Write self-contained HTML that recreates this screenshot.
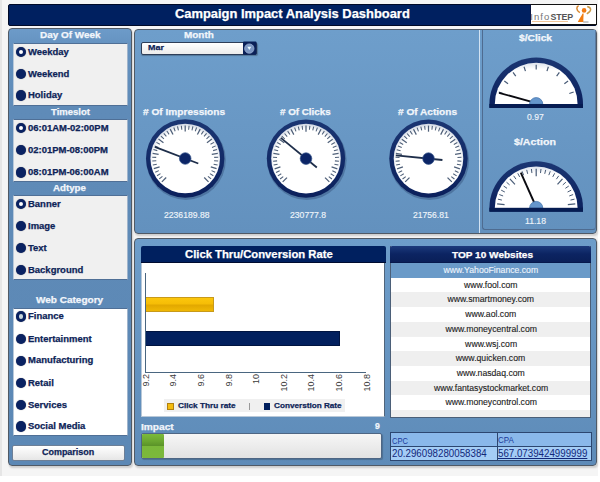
<!DOCTYPE html>
<html><head><meta charset="utf-8">
<style>
*{box-sizing:border-box;margin:0;padding:0}
html,body{width:600px;height:482px;overflow:hidden;background:#fff;font-family:"Liberation Sans",sans-serif}
.a{position:absolute}
#bg{left:2px;top:0;width:596px;height:476px;background:#f5f5f5}
#lstrip{left:0;top:0;width:1.5px;height:476px;background:#e6e6e6}
#hdr{left:8px;top:4px;width:589px;height:22px;background:#002060;border:1px solid #000a28;border-radius:2px}
#hdr .t{left:0;width:568px;top:3.1px;text-align:center;color:#fff;font-weight:bold;font-size:12.3px;letter-spacing:0.36px}
#logo{left:529.5px;top:4px;width:67px;height:21px;background:#fff;border:1.3px solid #111;border-left:1px solid #0a1640}
.panel{background:linear-gradient(#6e9dcb,#6897c4);border:1px solid #505a66;border-radius:4px;box-shadow:1px 2px 2px rgba(0,0,0,0.16)}
.ht{color:#f2f6fb;font-weight:bold;font-size:10px;white-space:nowrap;text-align:center}
.box{background:#f0f0f0;border:1px solid #4f6f96;border-left-color:#b9c9da;border-right-color:#9fb4cc}
.ri{color:#0e2458;font-weight:bold;font-size:8.7px;line-height:8.7px;white-space:nowrap;left:14.3px;transform:scaleX(1.09);transform-origin:0 0;-webkit-text-stroke:0.25px #0e2458}
.rd{width:10.4px;height:10.4px;border-radius:50%;background:#0a2262;left:2.2px;margin-top:-0.2px;box-shadow:0 0 1px rgba(0,0,0,.5)}
.rd.h{background:#fff;border:3px solid #0a2262}
.val{color:#eef4fa;font-size:8.7px;white-space:nowrap;text-align:center}
.lbl{color:#f4f8fc;font-weight:bold;font-size:10px;white-space:nowrap;text-align:center}
.row{left:0;width:200px;height:14.7px;text-align:center;font-size:8.4px;color:#2a2a2a;line-height:14.7px;white-space:nowrap}
.row span{display:inline-block;transform:scaleX(1.035);-webkit-text-stroke:0.12px currentColor}
</style></head><body>
<div id="bg" class="a"></div><div id="lstrip" class="a"></div>
<div id="hdr" class="a"></div>
<div id="logo" class="a"></div>
<div class="a" style="left:530.2px;top:10.6px;font-size:9.5px;color:#767676;letter-spacing:1.1px;white-space:nowrap;line-height:11px">Info<b style="color:#555;font-size:8.8px;letter-spacing:-0.1px">STEP</b></div>
<div class="a" style="left:532px;top:20.6px;width:36px;height:1px;background:#f2c698"></div>
<svg class="a" style="left:570px;top:3px" width="26" height="22" viewBox="570 3 26 22">
<path d="M578.6,5.6 C576.2,6.8 576.0,10.4 579.8,12.6" stroke="#d9862c" stroke-width="1.5" fill="none"/>
<path d="M587.2,6.4 C591.2,7.4 592.4,10.6 586.8,13.8" stroke="#c99a48" stroke-width="1.5" fill="none"/>
<circle cx="584.1" cy="10.4" r="2.3" fill="#f07a12"/>
<path d="M582.6,13.6 C581.2,16.5 579.0,19.5 577.8,22 L583.4,22 C583.2,19 583.6,16 583.6,13.6 Z" fill="#f27c10"/>
<path d="M583.2,22 L588.5,22" stroke="#8a8a8a" stroke-width="0.9"/>
</svg>
<!-- left panel -->
<div class="a panel" style="left:8px;top:28px;width:124.2px;height:438px;background:linear-gradient(#6d9bc9 0px,#6592c0 16px,#5f8bb8 78px,#5c88b5 100%)"></div>
<div class="a box" style="left:12.5px;top:43px;width:115.5px;height:63px;background:#f0f0f0">
  <div class="a rd h" style="top:3.1px"></div><div class="a ri" style="top:3.89px">Weekday</div>
  <div class="a rd" style="top:24.8px"></div><div class="a ri" style="top:25.59px">Weekend</div>
  <div class="a rd" style="top:46.4px"></div><div class="a ri" style="top:47.19px">Holiday</div>
</div>
<div class="a box" style="left:12.5px;top:119px;width:115.5px;height:62.8px;background:#f0f0f0">
  <div class="a rd h" style="top:2.8px"></div><div class="a ri" style="top:3.59px">06:01AM-02:00PM</div>
  <div class="a rd" style="top:25.1px"></div><div class="a ri" style="top:25.89px">02:01PM-08:00PM</div>
  <div class="a rd" style="top:47.4px"></div><div class="a ri" style="top:48.19px">08:01PM-06:00AM</div>
</div>
<div class="a box" style="left:12.5px;top:195px;width:115.5px;height:85px;background:#f0f0f0">
  <div class="a rd h" style="top:3.0px"></div><div class="a ri" style="top:3.79px">Banner</div>
  <div class="a rd" style="top:24.9px"></div><div class="a ri" style="top:25.69px">Image</div>
  <div class="a rd" style="top:47.0px"></div><div class="a ri" style="top:47.79px">Text</div>
  <div class="a rd" style="top:69.1px"></div><div class="a ri" style="top:69.89px">Background</div>
</div>
<div class="a box" style="left:12.5px;top:308px;width:115.5px;height:128px;background:#ffffff">
  <div class="a rd h" style="top:2.6px;background:#c8d6dc"></div><div class="a ri" style="top:3.39px">Finance</div>
  <div class="a rd" style="top:24.8px"></div><div class="a ri" style="top:25.59px">Entertainment</div>
  <div class="a rd" style="top:46.7px"></div><div class="a ri" style="top:47.49px">Manufacturing</div>
  <div class="a rd" style="top:68.9px"></div><div class="a ri" style="top:69.69px">Retail</div>
  <div class="a rd" style="top:90.8px"></div><div class="a ri" style="top:91.59px">Services</div>
  <div class="a rd" style="top:112.6px"></div><div class="a ri" style="top:113.39px">Social Media</div>
</div>
<div class="a" style="left:12px;top:445px;width:113px;height:16px;background:linear-gradient(#fff,#e6e6e6);border:1px solid #6d7f96;border-radius:2px"></div>

<!-- top middle panel -->
<div class="a panel" style="left:134px;top:29px;width:463px;height:205px;background:linear-gradient(#6e9ecb,#6391be)"></div>
<div class="a" style="left:478.5px;top:30px;width:1.6px;height:203px;background:#d2e2f2"></div>
<div class="a" style="left:482px;top:30px;width:114px;height:200px;border:1px solid #4e6b90;border-top:none;border-right-color:#5a7aa0;border-radius:0 0 3px 3px;background:linear-gradient(#6e9ecb,#6391be)"></div>
<div class="a" style="left:141px;top:41.5px;width:116px;height:13.7px;background:linear-gradient(#ffffff,#ebebeb);border:1px solid #2e3e58;border-radius:2px;box-shadow:0.5px 1px 1px rgba(0,0,0,.25)"></div>
<svg class="a" style="left:240px;top:38px" width="20" height="20" viewBox="240 38 20 20">
<rect x="243" y="41.4" width="13.5" height="13.4" rx="1" fill="#0a2058"/>
<circle cx="249.3" cy="48.6" r="4.7" fill="#7a95c2" stroke="#a4b8d8" stroke-width="0.7"/>
<path d="M247.3,46.7 L251.3,46.7 L249.3,49.9 Z" fill="#e4f6ff"/>
</svg>

<!-- bottom panel -->
<div class="a panel" style="left:134px;top:238px;width:463px;height:228px;background:linear-gradient(#6d9dca,#5e8bb8)"></div>
<!-- chart -->
<div class="a" style="left:141px;top:263px;width:244px;height:154px;background:#fff;border:1px solid #b8c8d8;border-top:none;border-right-color:#50647a"></div>
<div class="a" style="left:141px;top:246px;width:245px;height:17px;background:#00205f;border-bottom:1px solid #000c30;border-radius:2px 2px 0 0"></div>
<div class="a" style="left:145.3px;top:272.5px;width:1px;height:100px;background:#4a6680"></div>
<div class="a" style="left:145.3px;top:371.8px;width:221px;height:1px;background:#4a6680"></div>
<div class="a" style="left:146.3px;top:297.3px;width:67.5px;height:14.7px;background:linear-gradient(#fcc60c 0%,#f6bd06 45%,#e2a800 55%,#f0b804 100%);border:1px solid #c89a1a;border-left:none"></div>
<div class="a" style="left:146.3px;top:331px;width:194px;height:14.6px;background:#02205e;border:1px solid #001440;border-left:none"></div>
<div class="a" style="left:115.75px;top:369.40px;width:30px;height:10px;line-height:10px;text-align:right;font-size:9px;color:#3a3a3a;transform-origin:100% 50%;transform:rotate(-90deg);white-space:nowrap">9.2</div>
<div class="a" style="left:143.35px;top:369.40px;width:30px;height:10px;line-height:10px;text-align:right;font-size:9px;color:#3a3a3a;transform-origin:100% 50%;transform:rotate(-90deg);white-space:nowrap">9.4</div>
<div class="a" style="left:170.95px;top:369.40px;width:30px;height:10px;line-height:10px;text-align:right;font-size:9px;color:#3a3a3a;transform-origin:100% 50%;transform:rotate(-90deg);white-space:nowrap">9.6</div>
<div class="a" style="left:198.55px;top:369.40px;width:30px;height:10px;line-height:10px;text-align:right;font-size:9px;color:#3a3a3a;transform-origin:100% 50%;transform:rotate(-90deg);white-space:nowrap">9.8</div>
<div class="a" style="left:226.15px;top:369.40px;width:30px;height:10px;line-height:10px;text-align:right;font-size:9px;color:#3a3a3a;transform-origin:100% 50%;transform:rotate(-90deg);white-space:nowrap">10</div>
<div class="a" style="left:253.75px;top:369.40px;width:30px;height:10px;line-height:10px;text-align:right;font-size:9px;color:#3a3a3a;transform-origin:100% 50%;transform:rotate(-90deg);white-space:nowrap">10.2</div>
<div class="a" style="left:281.35px;top:369.40px;width:30px;height:10px;line-height:10px;text-align:right;font-size:9px;color:#3a3a3a;transform-origin:100% 50%;transform:rotate(-90deg);white-space:nowrap">10.4</div>
<div class="a" style="left:308.95px;top:369.40px;width:30px;height:10px;line-height:10px;text-align:right;font-size:9px;color:#3a3a3a;transform-origin:100% 50%;transform:rotate(-90deg);white-space:nowrap">10.6</div>
<div class="a" style="left:336.55px;top:369.40px;width:30px;height:10px;line-height:10px;text-align:right;font-size:9px;color:#3a3a3a;transform-origin:100% 50%;transform:rotate(-90deg);white-space:nowrap">10.8</div>
<div class="a" style="left:164px;top:399.3px;width:181.3px;height:13px;background:#f0f0f0"></div>
<div class="a" style="left:166.8px;top:402.6px;width:7.2px;height:7px;background:#f4bc10;border:1px solid #b08010"></div>
<div class="a" style="left:249.3px;top:402.5px;width:0.8px;height:7px;background:#999"></div>
<div class="a" style="left:263.6px;top:402.6px;width:6.6px;height:7px;background:#02205e"></div>
<!-- top10 -->
<div class="a" style="left:390px;top:246px;width:201px;height:172px;background:#f0f0f0;border:1px solid #4b5f78;border-top:none;overflow:hidden">
  <div class="a row" style="top:17.00px;background:#6a9ac8;color:#eef4fc"><span>www.YahooFinance.com</span></div>
<div class="a row" style="top:31.70px;background:#ffffff;color:#222"><span>www.fool.com</span></div>
<div class="a row" style="top:46.40px;background:#efefef;color:#222"><span>www.smartmoney.com</span></div>
<div class="a row" style="top:61.10px;background:#ffffff;color:#222"><span>www.aol.com</span></div>
<div class="a row" style="top:75.80px;background:#efefef;color:#222"><span>www.moneycentral.com</span></div>
<div class="a row" style="top:90.50px;background:#ffffff;color:#222"><span>www.wsj.com</span></div>
<div class="a row" style="top:105.20px;background:#efefef;color:#222"><span>www.quicken.com</span></div>
<div class="a row" style="top:119.90px;background:#ffffff;color:#222"><span>www.nasdaq.com</span></div>
<div class="a row" style="top:134.60px;background:#efefef;color:#222"><span>www.fantasystockmarket.com</span></div>
<div class="a row" style="top:149.30px;background:#ffffff;color:#222"><span>www.moneycontrol.com</span></div>
<div class="a row" style="top:164.00px;background:#efefef;color:#222"><span></span></div>
</div>
<div class="a" style="left:390px;top:246px;width:201px;height:17px;background:linear-gradient(#1c3a7c,#0c2462 50%,#0a1f58);border-bottom:1px solid #06184c;border-radius:2px 2px 0 0"></div>
<!-- impact -->
<div class="a" style="left:141px;top:433px;width:241px;height:26px;background:linear-gradient(#f6f6f6,#e2e2e2);border:1px solid #4e6684;border-radius:2px;box-shadow:1px 1px 1px rgba(0,0,0,.2)"></div>
<div class="a" style="left:142.3px;top:434.3px;width:21.7px;height:23.4px;background:linear-gradient(#7cba3a 0%,#6aa630 30%,#5a9228 50%,#7ab83a 52%,#7cb83c 100%);border-radius:1px"></div>
<!-- cpc table -->
<div class="a" style="left:390px;top:432px;width:202px;height:29px;background:#8ab8ea;border:1px solid #2c4670"></div>
<div class="a" style="left:391px;top:446px;width:200px;height:14px;background:#a4cdf6;border-top:1px solid #2c4670"></div>
<div class="a" style="left:496.5px;top:433px;width:1px;height:27px;background:#2c4670"></div>

<svg class="a" style="left:0;top:0" width="600" height="482" viewBox="0 0 600 482"><defs>
<linearGradient id="ringg" x1="0" y1="0" x2="0" y2="1"><stop offset="0" stop-color="#1b3673"/><stop offset="1" stop-color="#0b205c"/></linearGradient>
<radialGradient id="faceg" cx="50%" cy="54%" r="54%"><stop offset="0.86" stop-color="#ffffff"/><stop offset="1" stop-color="#cfd6e2"/></radialGradient>
<radialGradient id="faceg2" cx="50%" cy="100%" r="100%"><stop offset="0.85" stop-color="#ffffff"/><stop offset="1" stop-color="#dde3ec"/></radialGradient>
</defs><circle cx="186" cy="160.1" r="39.800000000000004" fill="rgba(20,40,80,0.28)"/>
<circle cx="185.2" cy="158.5" r="39.2" fill="url(#ringg)"/>
<circle cx="185.2" cy="158.5" r="34.8" fill="url(#faceg)"/>
<line x1="166.18" y1="177.52" x2="161.87" y2="181.83" stroke="#4e5f78" stroke-width="1.25"/>
<line x1="162.43" y1="176.45" x2="159.28" y2="178.93" stroke="#4e5f78" stroke-width="1.05"/>
<line x1="160.47" y1="173.65" x2="157.06" y2="175.74" stroke="#4e5f78" stroke-width="1.05"/>
<line x1="158.86" y1="170.64" x2="155.23" y2="172.32" stroke="#4e5f78" stroke-width="1.05"/>
<line x1="159.62" y1="166.81" x2="153.82" y2="168.7" stroke="#4e5f78" stroke-width="1.25"/>
<line x1="156.76" y1="164.16" x2="152.83" y2="164.94" stroke="#4e5f78" stroke-width="1.05"/>
<line x1="156.29" y1="160.78" x2="152.3" y2="161.09" stroke="#4e5f78" stroke-width="1.05"/>
<line x1="156.22" y1="157.36" x2="152.23" y2="157.2" stroke="#4e5f78" stroke-width="1.05"/>
<line x1="158.63" y1="154.29" x2="152.61" y2="153.34" stroke="#4e5f78" stroke-width="1.25"/>
<line x1="157.29" y1="150.63" x2="153.44" y2="149.54" stroke="#4e5f78" stroke-width="1.05"/>
<line x1="158.41" y1="147.4" x2="154.71" y2="145.87" stroke="#4e5f78" stroke-width="1.05"/>
<line x1="159.9" y1="144.33" x2="156.41" y2="142.38" stroke="#4e5f78" stroke-width="1.05"/>
<line x1="163.44" y1="142.69" x2="158.5" y2="139.1" stroke="#4e5f78" stroke-width="1.25"/>
<line x1="163.9" y1="138.81" x2="160.97" y2="136.1" stroke="#4e5f78" stroke-width="1.05"/>
<line x1="166.37" y1="136.45" x2="163.77" y2="133.41" stroke="#4e5f78" stroke-width="1.05"/>
<line x1="169.09" y1="134.39" x2="166.87" y2="131.06" stroke="#4e5f78" stroke-width="1.05"/>
<line x1="172.99" y1="134.53" x2="170.22" y2="129.1" stroke="#4e5f78" stroke-width="1.25"/>
<line x1="175.16" y1="131.29" x2="173.78" y2="127.54" stroke="#4e5f78" stroke-width="1.05"/>
<line x1="178.43" y1="130.3" x2="177.5" y2="126.41" stroke="#4e5f78" stroke-width="1.05"/>
<line x1="181.79" y1="129.7" x2="181.32" y2="125.73" stroke="#4e5f78" stroke-width="1.05"/>
<line x1="185.2" y1="131.6" x2="185.2" y2="125.5" stroke="#4e5f78" stroke-width="1.25"/>
<line x1="188.61" y1="129.7" x2="189.08" y2="125.73" stroke="#4e5f78" stroke-width="1.05"/>
<line x1="191.97" y1="130.3" x2="192.9" y2="126.41" stroke="#4e5f78" stroke-width="1.05"/>
<line x1="195.24" y1="131.29" x2="196.62" y2="127.54" stroke="#4e5f78" stroke-width="1.05"/>
<line x1="197.41" y1="134.53" x2="200.18" y2="129.1" stroke="#4e5f78" stroke-width="1.25"/>
<line x1="201.31" y1="134.39" x2="203.53" y2="131.06" stroke="#4e5f78" stroke-width="1.05"/>
<line x1="204.03" y1="136.45" x2="206.63" y2="133.41" stroke="#4e5f78" stroke-width="1.05"/>
<line x1="206.5" y1="138.81" x2="209.43" y2="136.1" stroke="#4e5f78" stroke-width="1.05"/>
<line x1="206.96" y1="142.69" x2="211.9" y2="139.1" stroke="#4e5f78" stroke-width="1.25"/>
<line x1="210.5" y1="144.33" x2="213.99" y2="142.38" stroke="#4e5f78" stroke-width="1.05"/>
<line x1="211.99" y1="147.4" x2="215.69" y2="145.87" stroke="#4e5f78" stroke-width="1.05"/>
<line x1="213.11" y1="150.63" x2="216.96" y2="149.54" stroke="#4e5f78" stroke-width="1.05"/>
<line x1="211.77" y1="154.29" x2="217.79" y2="153.34" stroke="#4e5f78" stroke-width="1.25"/>
<line x1="214.18" y1="157.36" x2="218.17" y2="157.2" stroke="#4e5f78" stroke-width="1.05"/>
<line x1="214.11" y1="160.78" x2="218.1" y2="161.09" stroke="#4e5f78" stroke-width="1.05"/>
<line x1="213.64" y1="164.16" x2="217.57" y2="164.94" stroke="#4e5f78" stroke-width="1.05"/>
<line x1="210.78" y1="166.81" x2="216.58" y2="168.7" stroke="#4e5f78" stroke-width="1.25"/>
<line x1="211.54" y1="170.64" x2="215.17" y2="172.32" stroke="#4e5f78" stroke-width="1.05"/>
<line x1="209.93" y1="173.65" x2="213.34" y2="175.74" stroke="#4e5f78" stroke-width="1.05"/>
<line x1="207.97" y1="176.45" x2="211.12" y2="178.93" stroke="#4e5f78" stroke-width="1.05"/>
<line x1="204.22" y1="177.52" x2="208.53" y2="181.83" stroke="#4e5f78" stroke-width="1.25"/>
<line x1="154.8" y1="146.8" x2="198.27" y2="163.53" stroke="#1e2e4a" stroke-width="1.8"/>
<circle cx="185.2" cy="158.5" r="5.8" fill="#0c2566" stroke="#34538a" stroke-width="0.7"/><circle cx="306.8" cy="160.2" r="39.800000000000004" fill="rgba(20,40,80,0.28)"/>
<circle cx="306" cy="158.6" r="39.2" fill="url(#ringg)"/>
<circle cx="306" cy="158.6" r="34.8" fill="url(#faceg)"/>
<line x1="286.98" y1="177.62" x2="282.67" y2="181.93" stroke="#4e5f78" stroke-width="1.25"/>
<line x1="283.23" y1="176.55" x2="280.08" y2="179.03" stroke="#4e5f78" stroke-width="1.05"/>
<line x1="281.27" y1="173.75" x2="277.86" y2="175.84" stroke="#4e5f78" stroke-width="1.05"/>
<line x1="279.66" y1="170.74" x2="276.03" y2="172.42" stroke="#4e5f78" stroke-width="1.05"/>
<line x1="280.42" y1="166.91" x2="274.62" y2="168.8" stroke="#4e5f78" stroke-width="1.25"/>
<line x1="277.56" y1="164.26" x2="273.63" y2="165.04" stroke="#4e5f78" stroke-width="1.05"/>
<line x1="277.09" y1="160.88" x2="273.1" y2="161.19" stroke="#4e5f78" stroke-width="1.05"/>
<line x1="277.02" y1="157.46" x2="273.03" y2="157.3" stroke="#4e5f78" stroke-width="1.05"/>
<line x1="279.43" y1="154.39" x2="273.41" y2="153.44" stroke="#4e5f78" stroke-width="1.25"/>
<line x1="278.09" y1="150.73" x2="274.24" y2="149.64" stroke="#4e5f78" stroke-width="1.05"/>
<line x1="279.21" y1="147.5" x2="275.51" y2="145.97" stroke="#4e5f78" stroke-width="1.05"/>
<line x1="280.7" y1="144.43" x2="277.21" y2="142.48" stroke="#4e5f78" stroke-width="1.05"/>
<line x1="284.24" y1="142.79" x2="279.3" y2="139.2" stroke="#4e5f78" stroke-width="1.25"/>
<line x1="284.7" y1="138.91" x2="281.77" y2="136.2" stroke="#4e5f78" stroke-width="1.05"/>
<line x1="287.17" y1="136.55" x2="284.57" y2="133.51" stroke="#4e5f78" stroke-width="1.05"/>
<line x1="289.89" y1="134.49" x2="287.67" y2="131.16" stroke="#4e5f78" stroke-width="1.05"/>
<line x1="293.79" y1="134.63" x2="291.02" y2="129.2" stroke="#4e5f78" stroke-width="1.25"/>
<line x1="295.96" y1="131.39" x2="294.58" y2="127.64" stroke="#4e5f78" stroke-width="1.05"/>
<line x1="299.23" y1="130.4" x2="298.3" y2="126.51" stroke="#4e5f78" stroke-width="1.05"/>
<line x1="302.59" y1="129.8" x2="302.12" y2="125.83" stroke="#4e5f78" stroke-width="1.05"/>
<line x1="306" y1="131.7" x2="306" y2="125.6" stroke="#4e5f78" stroke-width="1.25"/>
<line x1="309.41" y1="129.8" x2="309.88" y2="125.83" stroke="#4e5f78" stroke-width="1.05"/>
<line x1="312.77" y1="130.4" x2="313.7" y2="126.51" stroke="#4e5f78" stroke-width="1.05"/>
<line x1="316.04" y1="131.39" x2="317.42" y2="127.64" stroke="#4e5f78" stroke-width="1.05"/>
<line x1="318.21" y1="134.63" x2="320.98" y2="129.2" stroke="#4e5f78" stroke-width="1.25"/>
<line x1="322.11" y1="134.49" x2="324.33" y2="131.16" stroke="#4e5f78" stroke-width="1.05"/>
<line x1="324.83" y1="136.55" x2="327.43" y2="133.51" stroke="#4e5f78" stroke-width="1.05"/>
<line x1="327.3" y1="138.91" x2="330.23" y2="136.2" stroke="#4e5f78" stroke-width="1.05"/>
<line x1="327.76" y1="142.79" x2="332.7" y2="139.2" stroke="#4e5f78" stroke-width="1.25"/>
<line x1="331.3" y1="144.43" x2="334.79" y2="142.48" stroke="#4e5f78" stroke-width="1.05"/>
<line x1="332.79" y1="147.5" x2="336.49" y2="145.97" stroke="#4e5f78" stroke-width="1.05"/>
<line x1="333.91" y1="150.73" x2="337.76" y2="149.64" stroke="#4e5f78" stroke-width="1.05"/>
<line x1="332.57" y1="154.39" x2="338.59" y2="153.44" stroke="#4e5f78" stroke-width="1.25"/>
<line x1="334.98" y1="157.46" x2="338.97" y2="157.3" stroke="#4e5f78" stroke-width="1.05"/>
<line x1="334.91" y1="160.88" x2="338.9" y2="161.19" stroke="#4e5f78" stroke-width="1.05"/>
<line x1="334.44" y1="164.26" x2="338.37" y2="165.04" stroke="#4e5f78" stroke-width="1.05"/>
<line x1="331.58" y1="166.91" x2="337.38" y2="168.8" stroke="#4e5f78" stroke-width="1.25"/>
<line x1="332.34" y1="170.74" x2="335.97" y2="172.42" stroke="#4e5f78" stroke-width="1.05"/>
<line x1="330.73" y1="173.75" x2="334.14" y2="175.84" stroke="#4e5f78" stroke-width="1.05"/>
<line x1="328.77" y1="176.55" x2="331.92" y2="179.03" stroke="#4e5f78" stroke-width="1.05"/>
<line x1="325.02" y1="177.62" x2="329.33" y2="181.93" stroke="#4e5f78" stroke-width="1.25"/>
<line x1="280.8" y1="137.9" x2="316.82" y2="167.49" stroke="#1e2e4a" stroke-width="1.8"/>
<circle cx="306" cy="158.6" r="5.8" fill="#0c2566" stroke="#34538a" stroke-width="0.7"/><circle cx="429.3" cy="160.2" r="39.800000000000004" fill="rgba(20,40,80,0.28)"/>
<circle cx="428.5" cy="158.6" r="39.2" fill="url(#ringg)"/>
<circle cx="428.5" cy="158.6" r="34.8" fill="url(#faceg)"/>
<line x1="409.48" y1="177.62" x2="405.17" y2="181.93" stroke="#4e5f78" stroke-width="1.25"/>
<line x1="405.73" y1="176.55" x2="402.58" y2="179.03" stroke="#4e5f78" stroke-width="1.05"/>
<line x1="403.77" y1="173.75" x2="400.36" y2="175.84" stroke="#4e5f78" stroke-width="1.05"/>
<line x1="402.16" y1="170.74" x2="398.53" y2="172.42" stroke="#4e5f78" stroke-width="1.05"/>
<line x1="402.92" y1="166.91" x2="397.12" y2="168.8" stroke="#4e5f78" stroke-width="1.25"/>
<line x1="400.06" y1="164.26" x2="396.13" y2="165.04" stroke="#4e5f78" stroke-width="1.05"/>
<line x1="399.59" y1="160.88" x2="395.6" y2="161.19" stroke="#4e5f78" stroke-width="1.05"/>
<line x1="399.52" y1="157.46" x2="395.53" y2="157.3" stroke="#4e5f78" stroke-width="1.05"/>
<line x1="401.93" y1="154.39" x2="395.91" y2="153.44" stroke="#4e5f78" stroke-width="1.25"/>
<line x1="400.59" y1="150.73" x2="396.74" y2="149.64" stroke="#4e5f78" stroke-width="1.05"/>
<line x1="401.71" y1="147.5" x2="398.01" y2="145.97" stroke="#4e5f78" stroke-width="1.05"/>
<line x1="403.2" y1="144.43" x2="399.71" y2="142.48" stroke="#4e5f78" stroke-width="1.05"/>
<line x1="406.74" y1="142.79" x2="401.8" y2="139.2" stroke="#4e5f78" stroke-width="1.25"/>
<line x1="407.2" y1="138.91" x2="404.27" y2="136.2" stroke="#4e5f78" stroke-width="1.05"/>
<line x1="409.67" y1="136.55" x2="407.07" y2="133.51" stroke="#4e5f78" stroke-width="1.05"/>
<line x1="412.39" y1="134.49" x2="410.17" y2="131.16" stroke="#4e5f78" stroke-width="1.05"/>
<line x1="416.29" y1="134.63" x2="413.52" y2="129.2" stroke="#4e5f78" stroke-width="1.25"/>
<line x1="418.46" y1="131.39" x2="417.08" y2="127.64" stroke="#4e5f78" stroke-width="1.05"/>
<line x1="421.73" y1="130.4" x2="420.8" y2="126.51" stroke="#4e5f78" stroke-width="1.05"/>
<line x1="425.09" y1="129.8" x2="424.62" y2="125.83" stroke="#4e5f78" stroke-width="1.05"/>
<line x1="428.5" y1="131.7" x2="428.5" y2="125.6" stroke="#4e5f78" stroke-width="1.25"/>
<line x1="431.91" y1="129.8" x2="432.38" y2="125.83" stroke="#4e5f78" stroke-width="1.05"/>
<line x1="435.27" y1="130.4" x2="436.2" y2="126.51" stroke="#4e5f78" stroke-width="1.05"/>
<line x1="438.54" y1="131.39" x2="439.92" y2="127.64" stroke="#4e5f78" stroke-width="1.05"/>
<line x1="440.71" y1="134.63" x2="443.48" y2="129.2" stroke="#4e5f78" stroke-width="1.25"/>
<line x1="444.61" y1="134.49" x2="446.83" y2="131.16" stroke="#4e5f78" stroke-width="1.05"/>
<line x1="447.33" y1="136.55" x2="449.93" y2="133.51" stroke="#4e5f78" stroke-width="1.05"/>
<line x1="449.8" y1="138.91" x2="452.73" y2="136.2" stroke="#4e5f78" stroke-width="1.05"/>
<line x1="450.26" y1="142.79" x2="455.2" y2="139.2" stroke="#4e5f78" stroke-width="1.25"/>
<line x1="453.8" y1="144.43" x2="457.29" y2="142.48" stroke="#4e5f78" stroke-width="1.05"/>
<line x1="455.29" y1="147.5" x2="458.99" y2="145.97" stroke="#4e5f78" stroke-width="1.05"/>
<line x1="456.41" y1="150.73" x2="460.26" y2="149.64" stroke="#4e5f78" stroke-width="1.05"/>
<line x1="455.07" y1="154.39" x2="461.09" y2="153.44" stroke="#4e5f78" stroke-width="1.25"/>
<line x1="457.48" y1="157.46" x2="461.47" y2="157.3" stroke="#4e5f78" stroke-width="1.05"/>
<line x1="457.41" y1="160.88" x2="461.4" y2="161.19" stroke="#4e5f78" stroke-width="1.05"/>
<line x1="456.94" y1="164.26" x2="460.87" y2="165.04" stroke="#4e5f78" stroke-width="1.05"/>
<line x1="454.08" y1="166.91" x2="459.88" y2="168.8" stroke="#4e5f78" stroke-width="1.25"/>
<line x1="454.84" y1="170.74" x2="458.47" y2="172.42" stroke="#4e5f78" stroke-width="1.05"/>
<line x1="453.23" y1="173.75" x2="456.64" y2="175.84" stroke="#4e5f78" stroke-width="1.05"/>
<line x1="451.27" y1="176.55" x2="454.42" y2="179.03" stroke="#4e5f78" stroke-width="1.05"/>
<line x1="447.52" y1="177.62" x2="451.83" y2="181.93" stroke="#4e5f78" stroke-width="1.25"/>
<line x1="395.8" y1="155.3" x2="442.43" y2="160.01" stroke="#1e2e4a" stroke-width="1.8"/>
<circle cx="428.5" cy="158.6" r="5.8" fill="#0c2566" stroke="#34538a" stroke-width="0.7"/><path d="M489.4,107.7 L489.4,104.2 A46.8,46.8 0 0 1 583,104.2 L583,107.7 Z" fill="url(#ringg)"/>
<path d="M494.8,104.2 A41.4,41.4 0 0 1 577.6,104.2 Z" fill="url(#faceg2)"/>
<line x1="569.3" y1="93.45" x2="573.67" y2="92.02" stroke="#485b76" stroke-width="1.2"/>
<line x1="564.35" y1="83.75" x2="568.08" y2="81.04" stroke="#485b76" stroke-width="1.2"/>
<line x1="556.65" y1="76.05" x2="559.36" y2="72.32" stroke="#485b76" stroke-width="1.2"/>
<line x1="546.95" y1="71.1" x2="548.38" y2="66.73" stroke="#485b76" stroke-width="1.2"/>
<line x1="536.2" y1="69.4" x2="536.2" y2="64.8" stroke="#485b76" stroke-width="1.2"/>
<line x1="525.45" y1="71.1" x2="524.02" y2="66.73" stroke="#485b76" stroke-width="1.2"/>
<line x1="515.75" y1="76.05" x2="513.04" y2="72.32" stroke="#485b76" stroke-width="1.2"/>
<line x1="508.05" y1="83.75" x2="504.32" y2="81.04" stroke="#485b76" stroke-width="1.2"/>
<line x1="503.1" y1="93.45" x2="498.73" y2="92.02" stroke="#485b76" stroke-width="1.2"/>
<line x1="499" y1="92.8" x2="536.2" y2="103.2" stroke="#0a0a10" stroke-width="1.9"/>
<path d="M529.6,104.2 A6.6,6.6 0 0 1 542.8,104.2 Z" fill="#6596cc" stroke="#4a78b0" stroke-width="0.8"/>
<rect x="489.4" y="104" width="93.6" height="4" fill="#061c52"/><path d="M489.4,211.5 L489.4,208 A46.8,46.8 0 0 1 583,208 L583,211.5 Z" fill="url(#ringg)"/>
<path d="M494.8,208 A41.4,41.4 0 0 1 577.6,208 Z" fill="url(#faceg2)"/>
<line x1="567.83" y1="204.68" x2="575.28" y2="203.89" stroke="#485b76" stroke-width="1.2"/>
<line x1="570.5" y1="200.08" x2="574.49" y2="199.16" stroke="#485b76" stroke-width="1.0"/>
<line x1="569.28" y1="195.96" x2="573.13" y2="194.56" stroke="#485b76" stroke-width="1.0"/>
<line x1="567.56" y1="192.02" x2="571.22" y2="190.16" stroke="#485b76" stroke-width="1.0"/>
<line x1="565.38" y1="188.32" x2="568.78" y2="186.02" stroke="#485b76" stroke-width="1.0"/>
<line x1="562.77" y1="184.91" x2="565.86" y2="182.22" stroke="#485b76" stroke-width="1.0"/>
<line x1="557.48" y1="184.37" x2="562.5" y2="178.79" stroke="#485b76" stroke-width="1.2"/>
<line x1="556.39" y1="179.17" x2="558.74" y2="175.81" stroke="#485b76" stroke-width="1.0"/>
<line x1="552.73" y1="176.92" x2="554.65" y2="173.3" stroke="#485b76" stroke-width="1.0"/>
<line x1="548.81" y1="175.14" x2="550.28" y2="171.31" stroke="#485b76" stroke-width="1.0"/>
<line x1="544.72" y1="173.85" x2="545.71" y2="169.87" stroke="#485b76" stroke-width="1.0"/>
<line x1="540.49" y1="173.06" x2="540.99" y2="168.99" stroke="#485b76" stroke-width="1.0"/>
<line x1="536.2" y1="176.2" x2="536.2" y2="168.7" stroke="#485b76" stroke-width="1.2"/>
<line x1="531.91" y1="173.06" x2="531.41" y2="168.99" stroke="#485b76" stroke-width="1.0"/>
<line x1="527.68" y1="173.85" x2="526.69" y2="169.87" stroke="#485b76" stroke-width="1.0"/>
<line x1="523.59" y1="175.14" x2="522.12" y2="171.31" stroke="#485b76" stroke-width="1.0"/>
<line x1="519.67" y1="176.92" x2="517.75" y2="173.3" stroke="#485b76" stroke-width="1.0"/>
<line x1="516.01" y1="179.17" x2="513.66" y2="175.81" stroke="#485b76" stroke-width="1.0"/>
<line x1="514.92" y1="184.37" x2="509.9" y2="178.79" stroke="#485b76" stroke-width="1.2"/>
<line x1="509.63" y1="184.91" x2="506.54" y2="182.22" stroke="#485b76" stroke-width="1.0"/>
<line x1="507.02" y1="188.32" x2="503.62" y2="186.02" stroke="#485b76" stroke-width="1.0"/>
<line x1="504.84" y1="192.02" x2="501.18" y2="190.16" stroke="#485b76" stroke-width="1.0"/>
<line x1="503.12" y1="195.96" x2="499.27" y2="194.56" stroke="#485b76" stroke-width="1.0"/>
<line x1="501.9" y1="200.08" x2="497.91" y2="199.16" stroke="#485b76" stroke-width="1.0"/>
<line x1="504.57" y1="204.68" x2="497.12" y2="203.89" stroke="#485b76" stroke-width="1.2"/>
<line x1="520.8" y1="172.7" x2="536.2" y2="207" stroke="#0a0a10" stroke-width="1.9"/>
<path d="M529.6,208 A6.6,6.6 0 0 1 542.8,208 Z" fill="#6596cc" stroke="#4a78b0" stroke-width="0.8"/>
<rect x="489.4" y="207.8" width="93.6" height="4" fill="#061c52"/></svg>
<div class="a" style="left:174.75px;top:9.28px;font-size:11.92px;line-height:11.92px;transform:scaleX(1.084);transform-origin:0 0;white-space:nowrap;font-weight:bold;color:#fff;-webkit-text-stroke:0.25px #fff;">Campaign Impact Analysis Dashboard</div>
<div class="a" style="left:40.00px;top:31.36px;font-size:8.87px;line-height:8.87px;transform:scaleX(1.121);transform-origin:0 0;white-space:nowrap;font-weight:bold;color:#f2f6fb;-webkit-text-stroke:0.25px #f2f6fb;">Day Of Week</div>
<div class="a" style="left:50.80px;top:107.96px;font-size:8.87px;line-height:8.87px;transform:scaleX(1.074);transform-origin:0 0;white-space:nowrap;font-weight:bold;color:#f2f6fb;-webkit-text-stroke:0.25px #f2f6fb;">Timeslot</div>
<div class="a" style="left:53.20px;top:183.76px;font-size:8.87px;line-height:8.87px;transform:scaleX(1.096);transform-origin:0 0;white-space:nowrap;font-weight:bold;color:#f2f6fb;-webkit-text-stroke:0.25px #f2f6fb;">Adtype</div>
<div class="a" style="left:36.40px;top:296.36px;font-size:8.87px;line-height:8.87px;transform:scaleX(1.130);transform-origin:0 0;white-space:nowrap;font-weight:bold;color:#f2f6fb;-webkit-text-stroke:0.25px #f2f6fb;">Web Category</div>
<div class="a" style="left:183.70px;top:30.86px;font-size:8.87px;line-height:8.87px;transform:scaleX(1.120);transform-origin:0 0;white-space:nowrap;font-weight:bold;color:#f2f6fb;-webkit-text-stroke:0.25px #f2f6fb;">Month</div>
<div class="a" style="left:143.00px;top:107.56px;font-size:8.87px;line-height:8.87px;transform:scaleX(1.142);transform-origin:0 0;white-space:nowrap;font-weight:bold;color:#f2f6fb;-webkit-text-stroke:0.25px #f2f6fb;"># Of Impressions</div>
<div class="a" style="left:280.00px;top:107.59px;font-size:8.72px;line-height:8.72px;transform:scaleX(1.123);transform-origin:0 0;white-space:nowrap;font-weight:bold;color:#f2f6fb;-webkit-text-stroke:0.25px #f2f6fb;"># Of Clicks</div>
<div class="a" style="left:398.30px;top:107.56px;font-size:8.87px;line-height:8.87px;transform:scaleX(1.139);transform-origin:0 0;white-space:nowrap;font-weight:bold;color:#f2f6fb;-webkit-text-stroke:0.25px #f2f6fb;"># Of Actions</div>
<div class="a" style="left:518.80px;top:33.51px;font-size:8.58px;line-height:8.58px;transform:scaleX(1.196);transform-origin:0 0;white-space:nowrap;font-weight:bold;color:#f2f6fb;-webkit-text-stroke:0.25px #f2f6fb;">$/Click</div>
<div class="a" style="left:514.20px;top:137.86px;font-size:8.87px;line-height:8.87px;transform:scaleX(1.199);transform-origin:0 0;white-space:nowrap;font-weight:bold;color:#f2f6fb;-webkit-text-stroke:0.25px #f2f6fb;">$/Action</div>
<div class="a" style="left:141.30px;top:422.64px;font-size:9.01px;line-height:9.01px;transform:scaleX(1.127);transform-origin:0 0;white-space:nowrap;font-weight:bold;color:#f2f6fb;-webkit-text-stroke:0.25px #f2f6fb;">Impact</div>
<div class="a" style="left:375.00px;top:423.15px;font-size:8.28px;line-height:8.28px;transform:scaleX(1.040);transform-origin:0 0;white-space:nowrap;font-weight:bold;color:#f2f6fb;-webkit-text-stroke:0.25px #f2f6fb;">9</div>
<div class="a" style="left:184.80px;top:249.61px;font-size:10.47px;line-height:10.47px;transform:scaleX(1.076);transform-origin:0 0;white-space:nowrap;font-weight:bold;color:#fff;-webkit-text-stroke:0.25px #fff;">Click Thru/Conversion Rate</div>
<div class="a" style="left:451.50px;top:250.92px;font-size:9.16px;line-height:9.16px;transform:scaleX(1.098);transform-origin:0 0;white-space:nowrap;font-weight:bold;color:#fff;-webkit-text-stroke:0.25px #fff;">TOP 10 Websites</div>
<div class="a" style="left:148.25px;top:44.45px;font-size:7.99px;line-height:7.99px;transform:scaleX(1.118);transform-origin:0 0;white-space:nowrap;font-weight:bold;color:#0e2458;-webkit-text-stroke:0.25px #0e2458;">Mar</div>
<div class="a" style="left:41.70px;top:448.78px;font-size:8.14px;line-height:8.14px;transform:scaleX(1.102);transform-origin:0 0;white-space:nowrap;font-weight:bold;color:#0e2458;-webkit-text-stroke:0.25px #0e2458;">Comparison</div>
<div class="a" style="left:177.70px;top:401.94px;font-size:8.07px;line-height:8.07px;transform:scaleX(1.021);transform-origin:0 0;white-space:nowrap;font-weight:bold;color:#0e2458;-webkit-text-stroke:0.25px #0e2458;">Click Thru rate</div>
<div class="a" style="left:274.00px;top:401.94px;font-size:8.07px;line-height:8.07px;transform:scaleX(1.013);transform-origin:0 0;white-space:nowrap;font-weight:bold;color:#0e2458;-webkit-text-stroke:0.25px #0e2458;">Converstion Rate</div>
<div class="a" style="left:164.20px;top:210.93px;font-size:8.43px;line-height:8.43px;transform:scaleX(1.022);transform-origin:0 0;white-space:nowrap;font-weight:normal;color:#eef4fa;-webkit-text-stroke:0.15px #eef4fa">2236189.88</div>
<div class="a" style="left:290.10px;top:210.93px;font-size:8.43px;line-height:8.43px;transform:scaleX(1.024);transform-origin:0 0;white-space:nowrap;font-weight:normal;color:#eef4fa;-webkit-text-stroke:0.15px #eef4fa">230777.8</div>
<div class="a" style="left:412.70px;top:210.93px;font-size:8.43px;line-height:8.43px;transform:scaleX(1.016);transform-origin:0 0;white-space:nowrap;font-weight:normal;color:#eef4fa;-webkit-text-stroke:0.15px #eef4fa">21756.81</div>
<div class="a" style="left:526.70px;top:113.19px;font-size:8.72px;line-height:8.72px;transform:scaleX(0.981);transform-origin:0 0;white-space:nowrap;font-weight:normal;color:#eef4fa;-webkit-text-stroke:0.15px #eef4fa">0.97</div>
<div class="a" style="left:525.10px;top:217.43px;font-size:8.43px;line-height:8.43px;transform:scaleX(1.026);transform-origin:0 0;white-space:nowrap;font-weight:normal;color:#eef4fa;-webkit-text-stroke:0.15px #eef4fa">11.18</div>
<div class="a" style="left:392.00px;top:435.95px;font-size:9.59px;line-height:9.59px;transform:scaleX(0.788);transform-origin:0 0;white-space:nowrap;font-weight:normal;color:#1b3a9a;">CPC</div>
<div class="a" style="left:498.40px;top:436.42px;font-size:9.16px;line-height:9.16px;transform:scaleX(0.868);transform-origin:0 0;white-space:nowrap;font-weight:normal;color:#1b3a9a;">CPA</div>
<div class="a" style="left:392.00px;top:449.23px;font-size:10.32px;line-height:10.32px;transform:scaleX(0.944);transform-origin:0 0;white-space:nowrap;font-weight:normal;color:#12287a;">20.296098280058384</div>
<div class="a" style="left:498.40px;top:449.23px;font-size:10.32px;line-height:10.32px;transform:scaleX(0.944);transform-origin:0 0;white-space:nowrap;font-weight:normal;color:#12287a;text-decoration:underline;text-underline-offset:1px">567.0739424999999</div>
</body></html>
